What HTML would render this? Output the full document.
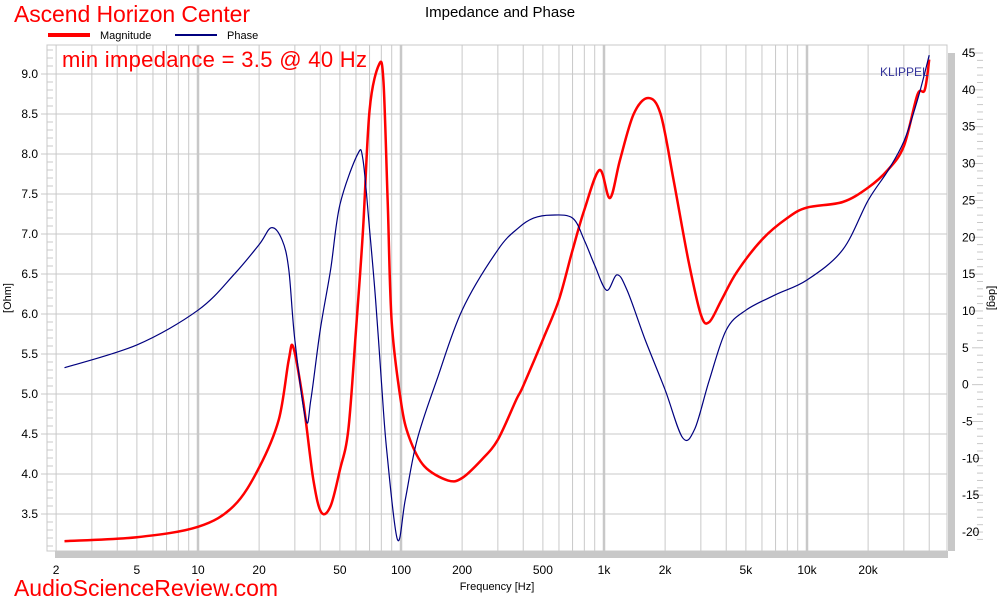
<!DOCTYPE html>
<html><head><meta charset="utf-8"><style>
body{margin:0;background:#fff;font-family:"Liberation Sans",sans-serif;}
svg{display:block}
</style></head><body>
<svg id="chart" width="1000" height="600" xmlns="http://www.w3.org/2000/svg">
<rect width="1000" height="600" fill="#fff"/>
<g id="grid"></g>
<g id="axes"></g>
<g id="series"></g>
<text x="500" y="17" font-size="15" text-anchor="middle" fill="#000">Impedance and Phase</text>
<text x="14" y="22" font-size="23" textLength="236" fill="#f00">Ascend Horizon Center</text>
<line x1="48" y1="35" x2="90" y2="35" stroke="#f00" stroke-width="4"/>
<text x="100" y="39" font-size="11">Magnitude</text>
<line x1="175" y1="35" x2="217" y2="35" stroke="#00007f" stroke-width="2"/>
<text x="227" y="39" font-size="11">Phase</text>
<text x="62" y="67" font-size="22" textLength="305" fill="#f00">min impedance = 3.5 @ 40 Hz</text>
<text x="880" y="76" font-size="12" fill="#33339a">KLIPPEL</text>
<text x="497" y="590" font-size="11" text-anchor="middle">Frequency [Hz]</text>
<text transform="translate(11,298) rotate(-90)" font-size="11" text-anchor="middle">[Ohm]</text>
<text transform="translate(989,298) rotate(90)" font-size="11" text-anchor="middle">[deg]</text>
<text x="14" y="596" font-size="23" textLength="264" fill="#f00">AudioScienceReview.com</text>
</svg>
<script>
const magFreq=[2.2,5,10,15,20,25,28,29.5,33,37,40.5,45,50,55,60,65,70,78,82,86,90,100,110,130,170,200,250,300,370,400,500,600,700,800,950,1070,1200,1400,1650,1900,2200,2600,3000,3300,3800,4500,6000,8000,10000,15000,20000,25000,30000,35000,38000,40000];
const magOhm=[3.16,3.21,3.34,3.6,4.08,4.68,5.43,5.58,4.9,3.93,3.52,3.6,4.05,4.55,5.8,7.05,8.55,9.12,8.9,7.4,5.9,4.9,4.45,4.1,3.92,3.95,4.18,4.43,4.93,5.1,5.68,6.18,6.8,7.3,7.8,7.45,7.93,8.5,8.7,8.5,7.68,6.68,5.99,5.9,6.18,6.52,6.93,7.2,7.33,7.4,7.58,7.8,8.1,8.74,8.8,9.18];
const phFreq=[2.2,5,10,15,20,23,26,28,30,34,36,40,45,50,61,65,70,75,80,85,96,105,120,150,200,300,380,450,550,700,800,900,1030,1160,1300,1600,2000,2440,2800,3300,4000,5000,7000,10000,15000,20000,25000,30000,35000,40000];
const phDeg=[2.3,5.4,10.1,14.9,19,21.3,19.6,15.6,6,-4.8,-2,7.4,15.6,24.4,31.2,30.5,21,11.5,0.6,-8.9,-21,-15.6,-7.5,0.6,10.1,18.3,21.3,22.6,23,22.6,19.6,16.2,12.8,14.9,12.8,6,-0.7,-7.2,-6,0.6,7.4,10.1,12.2,14.2,18.3,25,29,33,38.6,44.7];
const xTicks=[2,5,10,20,50,100,200,500,1000,2000,5000,10000,20000];
const xTickLabels=["2","5","10","20","50","100","200","500","1k","2k","5k","10k","20k"];
const yTicks=[3.5,4.0,4.5,5.0,5.5,6.0,6.5,7.0,7.5,8.0,8.5,9.0];
const y2Ticks=[-20,-15,-10,-5,0,5,10,15,20,25,30,35,40,45];

const L=47,R=947,T=45,B=551;
const X=f=>198+(Math.log10(f)-1)*203;
const Y=v=>74+(9-v)*80;
const Y2=p=>53+(45-p)*7.37;
const NS="http://www.w3.org/2000/svg";
function mk(parent,tag,attrs){const e=document.createElementNS(NS,tag);for(const k in attrs)e.setAttribute(k,attrs[k]);parent.appendChild(e);return e;}
function smooth(pts){let d='M'+pts[0][0].toFixed(1)+','+pts[0][1].toFixed(1);
 for(let i=0;i<pts.length-1;i++){const p0=pts[Math.max(0,i-1)],p1=pts[i],p2=pts[i+1],p3=pts[Math.min(pts.length-1,i+2)];
  const c1=[p1[0]+(p2[0]-p0[0])/6,p1[1]+(p2[1]-p0[1])/6],c2=[p2[0]-(p3[0]-p1[0])/6,p2[1]-(p3[1]-p1[1])/6];
  d+='C'+c1[0].toFixed(1)+','+c1[1].toFixed(1)+' '+c2[0].toFixed(1)+','+c2[1].toFixed(1)+' '+p2[0].toFixed(1)+','+p2[1].toFixed(1);}
 return d;}
const grid=document.getElementById('grid'),axes=document.getElementById('axes'),series=document.getElementById('series');
mk(grid,'rect',{x:L,y:T,width:R-L,height:B-T,fill:'#fff',stroke:'#c8c8c8'});
for(let d=1;d<=1e4;d*=10){for(let m=1;m<10;m++){const f=d*m;if(f<1.8||f>49000)continue;const x=X(f);
 const ln=mk(grid,'line',{x1:x,y1:T,x2:x,y2:B,stroke:'#c8c8c8','stroke-width':(m==1?2.5:1)});
 
 }}
yTicks.forEach(v=>{const y=Y(v);const ln=mk(grid,'line',{x1:L-6,y1:y,x2:R,y2:y,stroke:'#c8c8c8'});
 
 
 const t=mk(axes,'text',{x:38,y:y+4,'font-size':12,'text-anchor':'end'});t.textContent=v.toFixed(1);
 
 });
for(let v=3.1;v<9.35;v+=0.1){mk(axes,'line',{x1:L,y1:Y(v),x2:L+6,y2:Y(v),stroke:'#c8c8c8'});}
for(let p=-21;p<=45;p++){const y=Y2(p);mk(axes,'line',{x1:R+(p%5==0?25:30),y1:y,x2:R+36,y2:y,stroke:'#c8c8c8'});}
y2Ticks.forEach(p=>{const t=mk(axes,'text',{x:962,y:Y2(p)+4,'font-size':12});t.textContent=p;
 
 });
mk(axes,'rect',{x:55,y:551,width:893,height:7,fill:'#c8c8c8'});
mk(axes,'rect',{x:948,y:53,width:7,height:498,fill:'#c8c8c8'});
xTicks.forEach((f,i)=>{const t=mk(axes,'text',{x:X(f),y:574,'font-size':12,'text-anchor':'middle'});t.textContent=xTickLabels[i];
 
 });
const mp=mk(series,'path',{d:smooth(magFreq.map((f,i)=>[X(f),Y(magOhm[i])])),fill:'none',stroke:'#f00','stroke-width':2.5,'stroke-linejoin':'round'});


const pp=mk(series,'path',{d:smooth(phFreq.map((f,i)=>[X(f),Y2(phDeg[i])])),fill:'none',stroke:'#00007f','stroke-width':1.2,'stroke-linejoin':'round'});


</script>
</body></html>
